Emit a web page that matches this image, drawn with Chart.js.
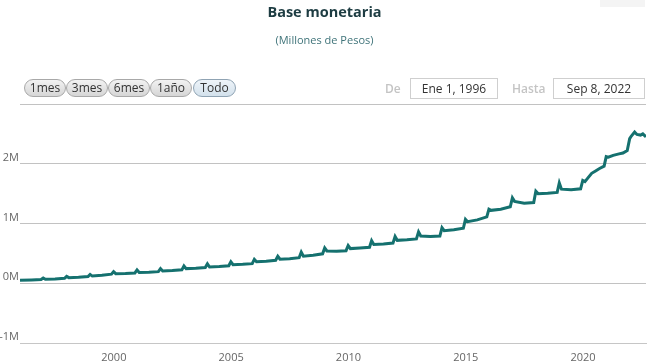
<!DOCTYPE html>
<html lang="es">
<head>
<meta charset="utf-8">
<title>Base monetaria</title>
<script src="https://cdn.jsdelivr.net/npm/chart.js"></script>
<style>
  html, body { margin: 0; padding: 0; background: #fff; }
  body { width: 649px; height: 364px; position: relative; overflow: hidden; font-family: "Open Sans", "Noto Sans", sans-serif; }
  #chartBox { position: absolute; left: 0; top: 0; width: 649px; height: 364px; }
  .titulo { position: absolute; left: 0; width: 649px; top: 2px; text-align: center; font-size: 14.5px; font-weight: bold; color: #1d3c42; }
  .subtitulo { position: absolute; left: 0; width: 649px; top: 32px; text-align: center; font-size: 11px; color: #3f7379; }
  .btn { position: absolute; top: 79px; height: 16px; line-height: 16px; border: 1px solid #a8a8a8; border-radius: 9px;
         background: linear-gradient(#f2f2f2, #d6d6d6); font-size: 12px; color: #333; text-align: center; box-sizing: content-box; }
  .btn.sel { background: linear-gradient(#eef4f9, #d3e1ec); border-color: #8fa3b3; }
  .lbl { position: absolute; top: 80px; font-size: 12px; color: #c4c4c4; font-weight: 600; }
  .caja { position: absolute; top: 78px; height: 19px; line-height: 19px; border: 1px solid #cfcfcf; background: #fff;
          font-size: 12px; color: #333; text-align: center; }
  .export { position: absolute; left: 600px; top: 0; width: 45px; height: 7px; background: #f4f4f4; }
</style>
</head>
<body>
<div id="chartBox"><canvas id="baseChart" width="649" height="364"></canvas></div>
<div class="export"></div>
<div class="titulo">Base monetaria</div>
<div class="subtitulo">(Millones de Pesos)</div>
<div id="botones"></div>
<div class="lbl" style="left:385px">De</div>
<div class="caja" style="left:410px;width:86px">Ene 1, 1996</div>
<div class="lbl" style="left:512px">Hasta</div>
<div class="caja" style="left:553px;width:90px">Sep 8, 2022</div>
<script>
// Rango de botones y textos
const botones = ['1mes', '3mes', '6mes', '1año', 'Todo'];

// Fechas y valores (millones de pesos)
const fechas = [
  '1996-01-01', '1996-06-30', '1996-11-25', '1996-12-28',
  '1997-01-31', '1997-06-30', '1997-11-25', '1997-12-28',
  '1998-01-31', '1998-06-30', '1998-11-25', '1998-12-28',
  '1999-01-31', '1999-06-30', '1999-11-25', '1999-12-28',
  '2000-01-31', '2000-06-30', '2000-11-25', '2000-12-28',
  '2001-01-31', '2001-06-30', '2001-11-25', '2001-12-28',
  '2002-01-31', '2002-06-30', '2002-11-25', '2002-12-28',
  '2003-01-31', '2003-06-30', '2003-11-25', '2003-12-28',
  '2004-01-31', '2004-06-30', '2004-11-25', '2004-12-28',
  '2005-01-31', '2005-06-30', '2005-11-25', '2005-12-28',
  '2006-01-31', '2006-06-30', '2006-11-25', '2006-12-28',
  '2007-01-31', '2007-06-30', '2007-11-25', '2007-12-28',
  '2008-01-31', '2008-06-30', '2008-11-25', '2008-12-28',
  '2009-01-31', '2009-06-30', '2009-11-25', '2009-12-28',
  '2010-01-31', '2010-06-30', '2010-11-25', '2010-12-28',
  '2011-01-31', '2011-06-30', '2011-11-25', '2011-12-28',
  '2012-01-31', '2012-06-30', '2012-11-25', '2012-12-28',
  '2013-01-31', '2013-06-30', '2013-11-25', '2013-12-28',
  '2014-01-31', '2014-06-30', '2014-11-25', '2014-12-28',
  '2015-01-31', '2015-06-30', '2015-11-25', '2015-12-28',
  '2016-01-31', '2016-06-30', '2016-11-25', '2016-12-28',
  '2017-01-31', '2017-06-30', '2017-11-25', '2017-12-28',
  '2018-01-31', '2018-06-30', '2018-11-25', '2018-12-28',
  '2019-01-31', '2019-06-30', '2019-11-25', '2019-12-28',
  '2020-01-31', '2020-03-15', '2020-05-15', '2020-07-15', '2020-09-15', '2020-11-25', '2020-12-28',
  '2021-01-31', '2021-04-15', '2021-07-15', '2021-09-15', '2021-11-20', '2021-12-28',
  '2022-01-20', '2022-03-15', '2022-04-20', '2022-06-15', '2022-07-20', '2022-09-08'
];
const valores = [
  50000, 55000, 62000, 88000,
  66000, 72000, 82000, 115000,
  94000, 100000, 112000, 148000,
  120000, 132000, 152000, 195000,
  160000, 164000, 172000, 222000,
  180000, 184000, 194000, 245000,
  205000, 212000, 224000, 290000,
  245000, 250000, 262000, 325000,
  272000, 280000, 292000, 360000,
  310000, 316000, 328000, 400000,
  360000, 370000, 384000, 452000,
  402000, 410000, 428000, 520000,
  452000, 470000, 492000, 590000,
  540000, 536000, 545000, 632000,
  580000, 590000, 602000, 712000,
  650000, 655000, 672000, 782000,
  718000, 728000, 742000, 860000,
  790000, 784000, 790000, 930000,
  880000, 895000, 920000, 1070000,
  1030000, 1060000, 1110000, 1240000,
  1220000, 1240000, 1280000, 1430000,
  1370000, 1340000, 1350000, 1540000,
  1500000, 1505000, 1520000, 1680000,
  1575000, 1565000, 1580000, 1720000,
  1700000, 1760000, 1840000, 1880000, 1920000, 1960000, 2120000,
  2110000, 2140000, 2165000, 2180000, 2220000, 2420000,
  2460000, 2530000, 2490000, 2480000, 2500000, 2450000
];

// Etiquetas de los ejes
const etiquetasX = [2000, 2005, 2010, 2015, 2020];
const ticksY = [-1000000, 0, 1000000, 2000000, 3000000];

// Botones del selector de rango
const btnLeft = [24, 66, 108, 150, 193];
const cont = document.getElementById('botones');
botones.forEach((b, i) => {
  const d = document.createElement('div');
  d.className = 'btn' + (b === 'Todo' ? ' sel' : '');
  d.style.left = btnLeft[i] + 'px';
  d.style.width = (b === 'Todo' ? 41 : 40) + 'px';
  d.textContent = b;
  cont.appendChild(d);
});

// fecha 'YYYY-MM-DD' -> año decimal
function aAnio(f) {
  const p = f.split('-').map(Number);
  const ini = Date.UTC(p[0], 0, 1);
  const fin = Date.UTC(p[0] + 1, 0, 1);
  return p[0] + (Date.UTC(p[0], p[1] - 1, p[2]) - ini) / (fin - ini);
}

const puntos = fechas.map((f, i) => ({ x: aAnio(f), y: valores[i] }));

const ctx = document.getElementById('baseChart');
new Chart(ctx, {
  type: 'line',
  data: {
    datasets: [{
      label: 'Base monetaria',
      data: puntos,
      borderColor: '#15716f',
      borderWidth: 3,
      pointRadius: 0,
      tension: 0,
      fill: false
    }]
  },
  options: {
    responsive: false,
    animation: false,
    layout: { padding: { top: 104, right: 3, left: 0, bottom: 0 } },
    plugins: { legend: { display: false }, tooltip: { enabled: false } },
    scales: {
      x: {
        type: 'linear',
        min: aAnio(fechas[0]),
        max: aAnio(fechas[fechas.length - 1]),
        afterBuildTicks: s => { s.ticks = etiquetasX.map(v => ({ value: v })); },
        afterFit: s => { s.height = 21; },
        grid: { display: false },
        border: { display: true, color: '#c6c6c6' },
        ticks: {
          color: '#666',
          font: { family: 'Open Sans', size: 11 },
          padding: 0,
          maxRotation: 0,
          callback: v => String(v)
        }
      },
      y: {
        min: -1000000,
        max: 3000000,
        afterBuildTicks: s => { s.ticks = ticksY.map(v => ({ value: v })); },
        afterFit: s => { s.width = 20; },
        grid: { color: '#c2c2c2', lineWidth: 1, drawTicks: false },
        border: { display: false },
        ticks: {
          color: '#666',
          font: { family: 'Open Sans', size: 11 },
          padding: 1,
          labelOffset: -6,
          callback: v => (v === 3000000 ? '' : (v / 1000000) + 'M')
        }
      }
    }
  }
});
</script>
</body>
</html>
